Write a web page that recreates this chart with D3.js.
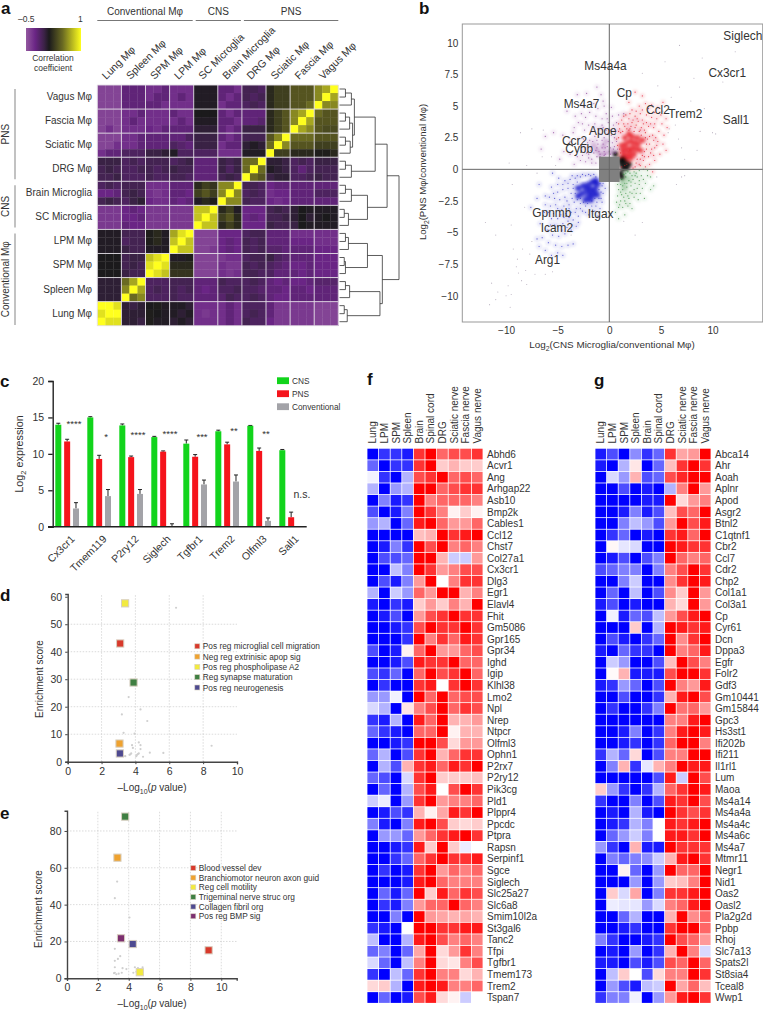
<!DOCTYPE html>
<html>
<head>
<meta charset="utf-8">
<script src="https://cdnjs.cloudflare.com/ajax/libs/d3/7.8.5/d3.min.js"></script>
<style>
  body { margin: 0; background: #fff; }
  text { font-family: "Liberation Sans", Arial, sans-serif; fill: #333; }
  .panel { font-size: 17px; font-weight: bold; fill: #111; }
</style>
</head>
<body>
<script>
// ---------- panel a ----------
const corrGroupsCol = ["Lung Mφ", "Spleen Mφ", "SPM Mφ", "LPM Mφ", "SC Microglia", "Brain Microglia", "DRG Mφ", "Sciatic Mφ", "Fascia Mφ", "Vagus Mφ"];
const corrGroupsRow = ["Vagus Mφ", "Fascia Mφ", "Sciatic Mφ", "DRG Mφ", "Brain Microglia", "SC Microglia", "LPM Mφ", "SPM Mφ", "Spleen Mφ", "Lung Mφ"];
// correlation x 10, 30 samples, rows top to bottom
const corrValues = [
  [-4,-4,-4,-2,-2,-2,-3,-3,-2,-3,-3,-3,1,1,1,-2,-2,-3,-.5,-.5,-1,2,3,3,4,4,4,6,7,10],
  [-4,-4,-4,-2,-2,-2,-3,-2,-2,-3,-2,-3,1,1,1,-2,-3,-2,-.5,-1,-.5,2,3,3,4,4,4,6,10,7],
  [-4,-4,-4,-2,-2,-2,-2,-2,-3,-3,-3,-3,1,1,1,-3,-2,-2,-1,-.5,-1,2,3,3,4,4,5,10,6,6],
  [-4,-4,-4,-3,-3,-2,-3,-3,-3,-2,-3,-3,1.3,1.3,1.3,-2,-3,-2,-2,-2,-2,2,3,4,6,7,10,5,4,4],
  [-4,-4,-4,-3,-2,-3,-3,-3,-3,-3,-2,-3,1,1,1,-2,-2,-3,-2,-2,-1.5,2,3,4,6,10,7,4,4,4],
  [-4,-3,-4,-3,-3,-3,-2.5,-3,-2,-2,-2,-2,.5,.5,.5,-2,-3,-2,0,0,0,2,3,4,10,7,6,4,3.5,3.5],
  [-4,-4,-4,-3,-3,-2,-2,-2,-2,-2,-2,-1,0,0,0,-2,-3,-2,-.5,-.5,-.5,4,6,10,5,5,5,4,4,4],
  [-4,-4,-3,-3,-3,-2,-2,-2,-2,-1,-1.5,-2,0,0,0,-3,-2,-2,.5,1,.5,5,10,6,4,4,4,3,3,3],
  [-3,-2,-2,-1,-1,-1,0,0,.5,1,-1,-1,-1,-1,-1,-3,-3,-3,1,1,1,10,3,3,2,2,2,1.5,1.5,2],
  [0,0,0,-1,-.5,-1,-.5,-.5,-.5,-1,-.5,0,-2,-2,-2,0,-.5,0,5,5,10,.5,.5,0,-1,-.5,-1,0,0,0],
  [-.5,0,-.5,-1,-1,-.5,-.5,-1,-.5,0,-.5,-.5,-2,-2,-2,0,-1,0,5,10,5,1,.5,0,-1,-2,-1,-.5,-.5,-.5],
  [-.5,-.5,0,-1,-1,-1,-.5,-1,-1,-.5,-.5,-1,-2,-2,-2,-.5,0,-.5,10,5,4,0,.5,.5,-1,-1,-.5,0,-.5,-.5],
  [-1,-.5,-1,-.5,-.5,-.5,-3,-3,-3,-2,-2,-2,2,3,2.5,6,6,10,-.5,-.5,-1,-2.5,-2,-2,-2,-2,-2,-2,-2,-2],
  [-2.5,-2.5,-2,-.5,0,-.5,-3,-3.5,-3,-2,-2,-2.5,3,4,3,6,10,6,-1,-.5,-1,-3,-2.5,-2.5,-2,-2,-2,-1,-1,-1],
  [-.5,0,-.5,-1,0,.5,-2.5,-3,-3,-2,-2.5,-2,1,2,1.5,10,6,6,-.5,-1,-1,-2.5,-3,-2.5,-2,-2,-2,-2,-2,-2],
  [-3.5,-3.5,-3.5,-2.5,-2,-2.5,-3.5,-3.5,-3.5,-3.5,-3.5,-3.5,8,8,10,2,3,1,-2.5,-2.5,-2.5,-.5,0,-.5,.5,1.3,1,1,1,1],
  [-3.5,-3.5,-3.5,-2.5,-2.5,-2,-3.5,-3.5,-3.5,-3.5,-3.5,-3.5,8,10,8,3,4,2,-2.5,-2,-2.5,-.5,-.5,0,.5,1.3,.5,1,1.3,1],
  [-3.5,-3.5,-3.5,-2,-2.5,-2.5,-3.5,-3.5,-3.5,-3.5,-3.5,-3.5,10,8,8,2,3,2,-2.5,-2.5,-2.5,0,-.5,-.5,0,1.3,1,1,1,1],
  [1,1,1,-.5,-.5,-.5,1.5,2,1,7,9,10,-4,-4,-4,-2.5,-2.5,-2.5,-1,-.5,-.5,-2,-2,-2,-3,-3,-3,-3,-3,-3],
  [1,1,1,-1,-.5,-.5,1.5,2,1,8,10,8,-4,-4,-4,-2.5,-2,-2.5,-.5,-1,-.5,-2,-2,-2,-2.5,-2.5,-2.5,-3,-3,-3],
  [1,1,1,0,-.5,-.5,1,1,1,10,8,8,-4,-4,-3.5,-2.5,-2,-2.5,-.5,-1,-.5,-1.5,-1.5,-2,-2,-2,-2,-2.5,-2.5,-2.5],
  [1.3,1.3,1.3,-.5,0,0,8,9,10,1,1,1.5,-4,-4,-4,-3.5,-3,-3,-1,-.5,-.5,0,-1,-1.5,-2,-2,-2,-2.5,-2.5,-2.5],
  [1.3,1.3,1.3,-.5,0,-.5,9,10,9,2,2,2,-4,-4,-4,-3,-3.5,-3.5,-.5,-1,-.5,-1,-1.5,-2,-2.5,-2.5,-2,-2.5,-2.5,-2.5],
  [1.3,1.3,1.3,0,-.5,-.5,10,9,8,2.5,2.5,2.5,-4,-4,-4,-3,-3.5,-3,-.5,-.5,-1,-1,-2,-2,-2,-2.5,-2,-2.5,-2.5,-2.5],
  [.5,.5,.5,5,7,10,-1,-1,-1,-.5,-.5,-.5,-2,-2,-2,-.5,-1,-1,-1,-.5,-1,-2,-2.5,-2,-2.5,-2.5,-2,-1.5,-1.5,-1.5],
  [.5,.5,.5,6,10,7,-1,-.5,-1,-.5,-1,-.5,-2,-2.5,-2,-1,-1,-.5,-1,-1,-1.5,-2,-2,-2.5,-2,-2,-2.5,-2,-2,-2],
  [.5,.5,.5,10,5,6,-1,-1,-1,-.5,-1,-1,-2,-2,-2,-1.5,-.5,-1,-1,-.5,-1,-2,-2.5,-2.5,-2,-2,-2,-2,-2,-2],
  [10,10,9,.5,0,.5,1.3,1.5,1,1,1,.5,-3,-3,-3,-3,-2,-3,-1,-1,-1,-2,-3.5,-3.5,-3.5,-3.5,-3.5,-4,-4,-4],
  [9,10,10,.5,.5,.5,1.5,1.3,1,1,.5,1,-3,-3.5,-3,-3,-2,-3,-1,-.5,-1,-2,-3.5,-3.5,-3.5,-3.5,-3.5,-4,-4,-4],
  [10,9,9,.5,.5,0,1.5,1,1,.5,1,.5,-3,-3,-3,-3,-2,-3,-.5,-1,-1,-2.5,-3.5,-3.5,-3.5,-3.5,-3.5,-4,-4,-4]
];
// merge tree over the 30 samples, h = 0..1 linkage height
const n3 = (a, b, c, h1, h2) => ({ h: h2, kids: [{ h: h1, kids: [a, b] }, c] });
const corrTree = { h: 1, kids: [
  { h: .8, kids: [
    { h: .6, kids: [
      { h: .25, kids: [n3(0, 1, 2, .1, .2), { h: .22, kids: [n3(3, 4, 5, .1, .17), n3(6, 7, 8, .1, .18)] }] },
      n3(9, 10, 11, .1, .2)
    ] },
    { h: .47, kids: [n3(12, 13, 14, .1, .2), n3(15, 16, 17, .08, .15)] }
  ] },
  { h: .72, kids: [
    { h: .47, kids: [n3(18, 19, 20, .1, .15), n3(21, 22, 23, .08, .1)] },
    { h: .68, kids: [n3(24, 25, 26, .1, .17), n3(27, 28, 29, .08, .13)] }
  ] }
] };

// ---------- panel b ----------
const geneLabels = ["Siglech", "Cx3cr1", "Ms4a4a", "Cp", "Ms4a7", "Ccl2", "Trem2", "Sall1", "Apoe", "Ccr2", "Cybb", "Gpnmb", "Itgax", "Icam2", "Arg1"];
const geneX = [11.05, 9.6, -2.42, .72, -4.42, 3.56, 5.72, 10.99, -1.97, -4.58, -4.26, -7.46, -2.09, -6.65, -7.2];
const geneY = [10.56, 7.64, 8.17, 6.08, 5.16, 4.69, 4.37, 3.92, 3.08, 2.29, 1.6, -3.43, -3.48, -4.62, -7.19];
const scatterGrey = [[6.8,9.8],[12.2,9.3],[5.4,8.5],[9,8.8],[8.2,7.2],[3.2,7.6],[4.7,6.6],[11,6.9],[6.8,6.5],[6,5.7],[7.9,5.4],[9.2,4.8],[7.5,4.2],[8.8,3],[10,2.9],[10.3,2.8],[8.5,1.5],[7,1.7],[6.7,2.4],[7.3,.8],[4.6,-.6],[6.5,-1.2],[7,-.6],[7.3,-.5],[5.8,3.2],[6.4,3.5],[5.2,4.6],[5.7,2.9],
  [-11.4,-9],[-11.6,-10.7],[-11,-10.3],[-10.8,-9.7],[-9.6,-10.9],[-10,-10],[-9.5,-9.9],[-9.8,-9.2],[-8.8,-8.2],[-9,-7.7],[-8.5,-8.8],[-8,-9.1],[-8.1,-8],[-7.2,-8.3],[-6.2,-8.3],[-5.5,-8.1],[-9.3,-6.3],[-12,-4.2],[-11,-5.2],[-9.5,-4.4],[-8.2,-3],[-9.4,-1.2],[-7,-.3],[-8,.3],[-9.7,.5],[-8.6,2.9],[-7.5,3.2],[-6.4,3.1],[-6.5,1],[-5.6,1],[-5.2,.3],[2.5,-5.2],[1.4,-4.1],[3.2,-4.2],[-7.5,-5.7],[-8.4,-6.3],[-8.9,-7.1],[-7.7,-6.7],[-6.9,-7.3],[-3.7,-5.2]];
const scatterPurple = [[-4.1,4.6],[-3.1,5.9],[-2.2,6],[-1.2,6.5],[-.8,5.9],[-.6,5.4],[-1.1,4.8],[-.3,4.4],[-2.3,4.1],[-3,3.7],[-2.4,3.1],[-3.5,2.9],[-1.4,3.6],[-.7,3.5],[-.1,3.7],[.4,3.5],[-1.9,2.3],[-1.4,2.6],[-.9,2.8],[-.5,2.5],[-.2,2.8],[.2,2.7],[.6,2.9],[-2.8,1.9],[-2.3,1.7],[-1.7,1.8],[-1.1,2],[-.6,2],[-.2,1.8],[.3,2.1],[.7,2.2],[-3.1,1],[-2.6,1.1],[-2,1.2],[-1.5,1.3],[-1,1.4],[-.5,1.4],[0,1.4],[.4,1.6],[.8,1.6],[-2.3,.6],[-1.7,.8],[-1.2,1],[-3.8,2.2],[-4.8,.8],[-4.4,1.4],[-.8,3.2],[-1.7,3],[.9,4.3],[.2,4.9],[1.4,4.4],[-.5,1.1],[.1,1.2],[.6,1.3],[-1.3,.5],[-3.4,.4],[-6.2,2.6],[-5.4,2.9],[-6.6,1.6],
  [-.4,1.2],[-.9,1.2],[-1.3,1.5],[-1.8,1.5],[-2.2,1.3],[-2.7,1.5],[-.7,1.7],[-1.2,1.7],[-.4,1.7],[.1,1.7],[.5,1.8],[-.1,2.2],[.5,2.5],[-.7,2.3],[-1.2,2.3],[-1.6,2.2],[-2.1,2.1],[-2.5,2.4],[-3,2.4],[-.3,3.1],[-.6,3.3],[-1.1,3.2],[-1.5,3.3],[-2,3.5],[-2.6,3.6],[.1,3.1],[.5,3.2],[.7,3.7],[-.2,4],[-.7,4],[-1.3,4.2],[-1.9,4.5],[-2.7,4.4],[-3.3,4.2],[.3,4.2],[-.5,5],[-1.5,5.2],[-2.5,5],[-3.4,3.3],[-4.5,2.7],[-.9,1],[-2,.9],[-2.8,.7],[-1.7,.5],[-3.8,1.2]];
const scatterGreen = [[1.2,-.8],[1.6,-.6],[2,-.3],[2.4,-.2],[2.9,-.1],[3.3,0],[3.7,-.1],[1.1,-1.2],[1.5,-1.1],[1.9,-.9],[2.3,-.8],[2.7,-.6],[3.1,-.5],[.9,-1.6],[1.3,-1.6],[1.7,-1.4],[2.1,-1.3],[2.5,-1.1],[2.9,-1.2],[.8,-2.1],[1.2,-2],[1.6,-1.9],[2,-1.8],[2.4,-1.6],[.7,-2.6],[1.1,-2.5],[1.5,-2.5],[1.9,-2.3],[2.4,-2.2],[3,-1.9],[.9,-3],[1.3,-3],[1.8,-2.9],[.6,-3.4],[2.2,-3.1],[3.5,-1.1],[4,-.6],[4.3,-1.3],[1.5,-3.6],[.9,-3.9],[1.6,-.3],[2.6,-1.9],[3.4,-2.3],
  [1.4,-.4],[1.8,-.2],[2.2,-.5],[2.6,-.3],[1.3,-1.3],[1.7,-1.1],[2.1,-1],[2.5,-.5],[2.9,-.9],[3.3,-.8],[1.1,-1.8],[1.4,-2.2],[1.8,-2.1],[2.2,-1.9],[2.7,-1.5],[3.2,-1.5],[1,-2.8],[1.6,-2.7],[2,-2.7],[2.8,-2.4],[3.7,-.5],[4,-1.6],[.8,-1.2]];
const scatterBlue = [[-.9,-1.1],[-1.3,-.6],[-1.8,-.5],[-2.3,-.5],[-2.8,-.6],[-3.3,-.7],[-3.8,-.8],[-4.3,-.9],[-3.5,-1.2],[-4,-1.5],[-4.5,-1.6],[-5,-1.8],[-3.7,-1.9],[-4.3,-2.2],[-4.8,-2.4],[-5.3,-2.3],[-5.7,-2.9],[-3.4,-2.6],[-3.9,-2.8],[-4.4,-2.9],[-5,-3.1],[-2.8,-2.7],[-3.2,-3.1],[-3.7,-3.4],[-4.2,-3.5],[-4.7,-3.6],[-2.3,-2.9],[-2.6,-3.3],[-3,-3.7],[-3.5,-4],[-4,-4.1],[-4.5,-4.3],[-5,-4.5],[-5.6,-3.9],[-6.3,-3.4],[-6.7,-4.3],[-6,-4.8],[-5.5,-5.2],[-4.9,-5.3],[-4.3,-5.1],[-3.7,-4.8],[-3.2,-4.5],[-6.5,-5.4],[-5.9,-5.8],[-5.2,-6],[-4.6,-6.1],[-4,-6],[-3.5,-5.9],[-7,-5.5],[-6.8,-6.1],[-6.2,-6.4],[-5.6,-6.8],[-5,-6.6],[-4.5,-6.8],[-1.7,-2.9],[-1.2,-2.6],[-.8,-2.3],[-.4,-1.5],[-.6,-1.9],[-1.4,-3.3],[-2,-3.6],[-.9,-3.1],[-7.6,-3],[-7,-2.3],[-6.2,-2.1],[-5.6,-1.4],[-6.8,-1.2],[-4.9,-.7],[-5.5,-.3],[-1.1,-3.7],
  [-.7,-1.3],[-1,-1.6],[-.8,-1.8],[-.6,-1.1],[-1.5,-.4],[-2,-.4],[-2.6,-.4],[-3.1,-.5],[-3.6,-.5],[-3.1,-1],[-3.5,-1.5],[-3.3,-1.9],[-3.6,-2.3],[-3.1,-2.4],[-2.8,-2.3],[-2.5,-2.6],[-2.1,-2.7],[-1.7,-2.5],[-1.4,-2.3],[-1,-2.3],[-.7,-2.6],[-1.3,-2.9],[-1.9,-3.2],[-2.3,-3.4],[-2.8,-3.1],[-3.3,-3.4],[-3,-4.2],[-3.6,-4.4],[-4.1,-4.6],[-4.6,-4.8],[-4,-1.1],[-4.5,-1.2],[-5,-1.2],[-5.4,-1.9],[-5.8,-2.2],[-6.2,-2.8],[-5.2,-2.8],[-4.6,-3.2],[-4.1,-2.5],[-3.9,-3.1],[-5.4,-3.5],[-5.9,-3.4],[-5,-3.9],[-4.4,-3.8],[-3.9,-3.8],[-5.3,-4.4],[-5.7,-4.4]];
const scatterRed = [[1.1,1.3],[2,3.2],[2.5,3.3],[3,3.1],[3.5,2.9],[3.9,2.6],[4.3,2.3],[4.6,1.9],[3.6,1.6],[4,1.3],[3.4,1],[3,.8],[2.6,.5],[2.2,3.7],[2.8,3.8],[3.3,3.6],[3.8,3.4],[4.3,3.3],[4.8,3],[1.5,3.4],[1.1,2.9],[.9,2.5],[1.9,4],[2.5,4.2],[3,4.4],[3.6,4.3],[4.1,4.1],[4.6,4],[5.1,3.6],[5.3,2.7],[5.2,2],[4.9,1.2],[1.4,4.2],[2.2,4.7],[2.9,5],[3.5,5.2],[4.1,5.1],[4.7,4.9],[5.2,5.3],[1.9,5.3],[3.2,5.8],[3.9,.4],[3.5,.2],[4.4,.7],[1.7,.4],[2.3,.1],[3,.3],[1.2,.2],[4.2,-.2],[2.5,6.1],
  [1.3,3],[1.7,3.2],[2.1,3.4],[2.6,3.5],[3.1,3.3],[3.4,3.1],[3.7,2.4],[3.9,2],[4.1,1.6],[3.8,1],[3.4,1.4],[3.3,.7],[2.9,.4],[2.5,.2],[3.6,2],[3.5,2.5],[4.2,2.7],[4.5,2.5],[4.7,2.2],[4.4,1.7],[4.3,1.1],[3.1,2.7],[2.9,3],[2.4,3],[1.9,3.1],[1.4,3.6],[1.8,3.6],[2.3,3.9],[2.7,4],[3.2,3.9],[3.6,3.7],[4,3.6],[4.4,3.6],[1,3.2],[.9,3.6],[1.2,3.9],[1.6,4.3],[2,4.4],[2.6,4.6],[3.2,4.7],[3.8,4.8],[4.4,4.5],[5,4.3],[5.5,4],[5.6,3.3],[5.5,1.5],[1,1.6],[.8,1.9],[.7,2.4],[.9,3],[1.5,.3],[2,.5],[2.7,.8],[3.2,1.1]];
const coreBlack = [[1.2,.4],[1.4,.1],[1.1,-.3],[1.5,.6],[1.9,.4],[1.3,.8],[1.1,.7],[1.7,.1],[1.2,-.6],[.6,1.2]];
const coreRed = [[1.2,.9],[1.4,1.2],[1.6,.8],[1.8,1.1],[2,1.4],[2.2,1.7],[1.7,1.6],[1.3,1.5],[2.4,1.2],[2.6,1.6],[2.1,.9],[2.8,2],[2.4,2.1],[2,2.2],[1.6,2],[1.2,1.9],[3,1.5],[2.7,2.5],[2.2,2.6],[3.2,2.3],[1.5,2.5],[1.9,2.8]];
const coreBlue = [[-1.2,-1.2],[-1.6,-1],[-2,-1.2],[-1.4,-1.6],[-1.8,-1.6],[-2.2,-1.6],[-1.2,-2],[-1.6,-2],[-2,-2],[-2.5,-1.3],[-2.6,-1.9],[-1.3,-.9],[-3,-1.5],[-2.3,-2.4],[-1.8,-2.4],[-3,-2.1]];
const coreGreen = [[1.3,-1],[1.8,-.7],[1.5,-1.5]];
const corePurple = [[-.8,1.2],[-.3,1.3],[.2,1.4],[-1.2,1.5],[-.6,1.8],[-1.5,1.9],[-.3,2.2]];

// ---------- panel c ----------
const barGenes = ["Cx3cr1", "Tmem119", "P2ry12", "Siglech", "Tgfbr1", "Trem2", "Olfml3", "Sall1"];
const barSeries = ["CNS", "PNS", "Conventional"];
const cnsValues = [14, 15, 13.9, 12.3, 11.4, 13.1, 13.85, 10.5];
const pnsValues = [11.7, 9.3, 9.55, 10.3, 9.6, 11.3, 10.4, 1.3];
const convValues = [2.5, 4.2, 4.5, .1, 5.8, 6.2, .8, 0];
const cnsTops = [14.2, 15.1, 14.1, 12.4, 11.9, 13.25, 13.9, 10.6];
const pnsTops = [12, 9.8, 9.7, 10.4, 9.9, 11.6, 10.8, 2];
const convTops = [3.3, 5.1, 5.1, .4, 6.4, 7.1, 1.2, 0];
const sigLabels = ["****", "*", "****", "****", "***", "**", "**", "n.s."];
const sigY = [14.2, 12.45, 12.7, 12.9, 12.45, 13.3, 12.9, 4.5];

// ---------- panel d ----------
const dTerms = ["Pos reg microglial cell migration", "Neg reg extrinisic apop sig", "Pos reg phospholipase A2", "Reg synapse maturation", "Pos reg neurogenesis"];
const dX = [3.1, 3.06, 3.39, 3.89, 3.08];
const dY = [43, 6.6, 57.6, 28.8, 3];
const dOther = [[6.4,56],[3.6,23.5],[4.3,19],[3.2,17.2],[4.7,14.8],[3.3,10.5],[3.95,10.2],[4.2,7],[3.8,6],[4.3,6],[3.85,5],[4.3,4.6],[4.85,3.3],[5.65,3.2],[8.5,5.8],[3.75,3],[3.65,2.5],[3.4,2],[3.3,2],[4.2,3],[4.1,2.5],[4.05,2],[4.45,1.8],[3.7,2.7],[4.15,2.8]];
const dColors = ["#d8392b", "#efa22f", "#f2ea3f", "#3f7f42", "#4e4a90"];

// ---------- panel e ----------
const eTerms = ["Blood vessel dev", "Branchiomotor neuron axon guid", "Reg cell motility", "Trigeminal nerve struc org", "Collagen fibril org", "Pos reg BMP sig"];
const eX = [9.18, 3.27, 4.72, 3.77, 4.26, 3.5];
const eY = [15.2, 65.5, 3.3, 87.8, 18.6, 21.7];
const eOther = [[3.25,52.5],[3.1,43.5],[4.05,33],[3.1,16],[3.45,12],[3.3,10.5],[3.1,9.5],[3.1,6],[3.6,5.5],[3.85,5],[4.4,6],[4.9,6],[3.1,3],[3.2,2.2],[3.35,2.5],[3.55,3],[4.3,3],[4.5,3.5],[4.6,5.5],[3.05,2.8]];
const eColors = ["#d8392b", "#efa22f", "#f2ea3f", "#3f7f42", "#4e4a90", "#7c2f6f"];

// ---------- panels f, g ----------
const fColumns = ["Lung", "LPM", "SPM", "Spleen", "Brain", "Spinal cord", "DRG", "Sciatic nerve", "Fascia nerve", "Vagus nerve"];
const fGenes = ["Abhd6","Acvr1","Ang","Arhgap22","Asb10","Bmp2k","Cables1","Ccl12","Chst7","Col27a1","Cx3cr1","Dlg3","Egr1","Elavl4","Fhit","Gm5086","Gpr165","Gpr34","Ighd","Igip","Klhl38","Lmo2","Npl","Nrep","Ntpcr","Olfml3","Ophn1","P2rx7","P2ry12","Pik3cg","Pld1","Plppr4","Ppcdc","Ptpra","Rapsn","Serpinf1","Sgce","Siglech","Slc25a27","Slc6a8","Smim10l2a","St3gal6","Tanc2","Tfpi","Tgfbr1","Tmem173","Trem2","Tspan7"];
const fValues = [
  [-10,-8,-8,-9,8,10,6,7,7,8],[-6,-10,-8,-8,8,10,2,3,2,2],[-.5,-8,-10,-3,7,8,10,6,7,6],[-3,-10,-4,-3,10,10,6,7,8,8],
  [-10,-5,-9,-8,10,5,6,6,6,5],[-7,-10,-9,-5,10,8,5,.5,2,.5],[-4,-3,-10,-6,9,10,6,4,4,6],[-10,-10,-10,-10,2.5,3,10,8,9,10],
  [-10,-9,-5,-8,10,7,10,5,6,5],[-10,-7,-7,-6,10,10,3,-2,-2,4],[-10,-10,-2.5,-5,10,8,4,5,7,7],[-10,-7,-9,-5,4,10,0,5,8,8],
  [-3,-10,-2,-4,6,4,10,10,3,5],[-9,-10,-8,-9,2,4,2,5,3,10],[-10,-9,-7,-10,4,7,8,10,8,8],[-10,-10,-9,-8,7,10,8,8,10,8],
  [-10,-10,-10,-8,10,5,8,6,9,8],[-7,-10,-9,.5,6,10,4,4,6,7],[-10,-10,-9,-7,9,8,8,10,6,6],[-7,-8,-6,-10,6,10,7,8,10,6],
  [-10,-8,-10,-10,8,9,0,8,10,8],[-4,-4,-.5,-10,10,6,10,6,7,7],[-1.5,-3,-10,1,5,7,10,6,8,7],[-8,-9,-3,-10,9,6,10,3,3,4],
  [-6,-8,-9,-10,6,6,10,.5,3,3],[-10,-10,-9,-8,10,10,7,1.5,4,4],[-6,-3,-10,-7,8,10,3,6,8,8],[-10,-3,-7,3,8,9,6,9,8,10],
  [-6,-7,-10,-1.5,8,10,2,2,2,2.5],[-10,-6,-10,-3,7,9,0,7,10,8],[-2,-.7,-10,-4,8,10,4,5,5,6],[-10,-9,-7,-8,3,.5,3.5,9,8,10],
  [-5,-9,-10,-5,9,10,7,2,1.5,2],[-10,-4,-4,-6,4,6,8,9,10,8],[-10,-10,-9,-8,9,2,10,2,-.7,0],[-10,-10,-8,-6,6,8,10,8,8,9],
  [-10,-8,-10,-9,8,10,4,6,5,6],[-10,-10,-10,-9,9,10,6,5,5,5],[-10,-6,-9,-6,10,2,9,6,8,7],[-10,-8,-9,-5,4,6,6,10,6,5],
  [-10,-10,-5,-10,10,4,3.5,3,3.5,3],[-8,-9,-10,0,10,10,8,8,9,9],[-2.5,-10,-10,-3,9,10,7,5,6,5],[-6,-5,-10,-6,3.5,10,1.5,4,8,5],
  [-1.5,-6,-10,-2.5,5,10,1.5,1,5,7],[-8,-10,-2.5,-6,8,10,5,5,1.5,3],[1.5,2,-3,-10,9,10,9,5,5,6],[-10,-6,-10,-9,7,9,1.5,.5,-2,0]
];
const gGenes = ["Abca14","Ahr","Aoah","Aplnr","Apod","Asgr2","Btnl2","C1qtnf1","Cbr2","Ccl7","Cdr2","Chp2","Col1a1","Col3a1","Cp","Cyr61","Dcn","Dppa3","Egfr","Folr2","Gdf3","Gm10441","Gm15844","Gpc3","Hs3st1","Ifi202b","Ifi211","Il1rl1","Lum","Maoa","Ms4a14","Ms4a4a","Ms4a4c","Ms4a6c","Ms4a7","Mtmr11","Negr1","Nid1","Oas2","Oasl2","Pla2g2d","Ppbp","Rhoj","Slc7a13","Spats2l","St8sia4","Tceal8","Wwp1"];
const gValues = [
  [-9,-7,-10,-4.5,-8,-6,8,3.5,4,10],[-9,-10,-3,1,-10,-6,2.5,8,10,8],[-10,-1.5,-4,3,-7,-6,7,8.5,10,10],[-10,-10,-7,-10,-9,-10,-3,5,10,4],
  [-10,-10,-10,-10,-9,-9,10,1.5,4,5],[-10,-10,-9,-5,-9,-7,2.5,7,6,10],[-10,-10,-5,-2.5,-4,-7,4,10,7,9],[-10,-8,-6,-10,-9,-10,8,9,6,10],
  [-10,.3,-1,-1.5,-10,-10,10,9,8,8],[-10,-9,-7,-10,-7,-5,10,6,5,6],[-7,-6,-5,-5,-10,-5,5,7,10,8],[-10,-10,-5,-2,-10,-10,4.5,8,10,9],
  [-10,-6,-10,-2.5,-10,-7,4.5,2,10,4],[-9,-7,-10,-9,-10,-10,3,1.5,10,4],[-10,-.5,-9,-6,-7,-2.5,4,7,9,10],[-10,-10,-10,2,-10,-3,10,9,8,9],
  [-10,-7,-9,-10,-8,-6,10,4.5,8,10],[-9,-10,-6,-8,-8,-10,10,5,6,9],[-10,-2,-4,-10,-10,-7,2.5,10,7,5],[-10,.2,3,-9,-9,-9,7,10,10,8],
  [-9,-8,-4,-6,-10,-7,10,5,4,9],[-10,-10,-7,-10,-10,-8,3,9,10,7],[-10,-8,-10,-10,-8,-5,10,5.5,6,4],[-10,-10,-10,-10,-10,-10,5,5,9,10],
  [-10,-10,-9,-5,-10,-8,5,9,10,9],[-10,-10,-9,-8,-10,-8,6,10,10,5],[-8,-3,-6,1.5,-10,-7,5,5,10,10],[-10,-5,3,-8,-1,3,5,10,9,9],
  [-10,-10,-10,-10,-10,-7,9,-2,10,7],[2,-4,-8,-10,-8,-3,6,8,10,9],[-8,-10,-10,-5,-10,-7,9,8,10,7],[-10,-9,-10,-3,-9,-10,10,8,7,8],
  [-10,-9,-8,-3,-5,0,9,8,9,10],[-10,-6,-4,-2,-5,0,9,9,8,10],[-4,-8,-10,3,-9,-9,10,8,8,8],[-10,-5,-6,-5,-4.5,-2,3,9,10,8],
  [-10,-10,.5,-6,-10,-4,10,6,6,10],[-10,-10,-10,-4,-10,-4,2,2.5,5,10],[-10,2,-1.5,3.5,-10,-5,8,8,9,10],[-10,-.7,-1,-1,-4,-1.5,5,6,9,10],
  [-10,-10,-6,-3,-10,-10,3,10,4.5,6],[-10,-10,-9,-8,-10,-10,8,10,10,6],[-5,-8,-10,-10,-9,-8,10,7,6,4],[-10,-9,-10,-4,-10,-8,3,10,5,-1.5],
  [-9,-9,-10,-7,-9,-7,7,6,10,6],[-10,-2.5,2,0,-7,1.5,5,5,10,8],[-10,-4,-7,-9,-2.5,-2,10,3.5,6,2.5],[-8,-5,-5,-.5,-10,-4,4,9,10,8]
];

const w = 763, h = 1012;
const svg = d3.select("body").append("svg").attr("width", w).attr("height", h);

function panelLetter(s, x, y) {
  svg.append("text").attr("class", "panel").attr("x", x).attr("y", y).text(s);
}
panelLetter("a", 1, 14);
panelLetter("b", 419, 14);
panelLetter("c", 0, 387);
panelLetter("d", 0, 601);
panelLetter("e", 0, 819);
panelLetter("f", 367, 385);
panelLetter("g", 594, 386);

// writes "Log<sub>2</sub>..." style labels
function subText(sel, a, sub, b) {
  sel.append("tspan").text(a);
  sel.append("tspan").attr("dy", 3).attr("font-size", "0.7em").text(sub);
  sel.append("tspan").attr("dy", -3).text(b);
}

// ---------- a: correlation heatmap ----------
const corrColor = d3.scaleLinear()
  .domain([-5, -2.5, 0, 1.3, 5, 10])
  .range(["#93589f", "#6a2585", "#3a2245", "#1b1a1c", "#6a6a22", "#ffff1e"]);
const rowBand = d3.scaleBand().domain(d3.range(30)).range([85, 325.7]);
const colBand = d3.scaleBand().domain(d3.range(30)).range([97.3, 338.3]);
const a = svg.append("g");
corrValues.forEach((row, i) => {
  a.selectAll(null).data(row).enter().append("rect")
    .attr("x", (d, j) => colBand(j))
    .attr("y", rowBand(i))
    .attr("width", colBand.bandwidth() + .3)
    .attr("height", rowBand.bandwidth() + .3)
    .attr("fill", d => corrColor(d));
});
d3.range(0, 31, 3).forEach(k => {
  const xp = k == 30 ? colBand.range()[1] : colBand(k);
  const yp = k == 30 ? rowBand.range()[1] : rowBand(k);
  a.append("line").attr("x1", xp).attr("x2", xp).attr("y1", 85).attr("y2", 325.7).attr("stroke", "#e4e0e6").attr("stroke-width", .9);
  a.append("line").attr("y1", yp).attr("y2", yp).attr("x1", 97.3).attr("x2", 338.3).attr("stroke", "#e4e0e6").attr("stroke-width", .9);
});
corrGroupsRow.forEach((s, i) => {
  a.append("text").attr("x", 92).attr("y", rowBand(i * 3) + 15).attr("text-anchor", "end").attr("font-size", 10).text(s);
});
corrGroupsCol.forEach((s, i) => {
  const cx = colBand(i * 3) + 9, cy = 80;
  a.append("text").attr("transform", `translate(${cx},${cy}) rotate(-45)`).attr("font-size", 10.5).text(s);
});

// group headers and side brackets
const headerNames = ["Conventional Mφ", "CNS", "PNS"];
const headerSpans = [[0, 4], [4, 6], [6, 10]];
headerNames.forEach((s, i) => {
  const x0 = colBand(headerSpans[i][0] * 3) + (i ? 2 : 0);
  const x1 = headerSpans[i][1] == 10 ? 338.3 : colBand(headerSpans[i][1] * 3) - 1;
  a.append("line").attr("x1", x0).attr("x2", x1).attr("y1", 20.5).attr("y2", 20.5).attr("stroke", "#777").attr("stroke-width", 1);
  a.append("text").attr("x", (x0 + x1) / 2).attr("y", 14.5).attr("text-anchor", "middle").attr("font-size", 10).text(s);
});
const sideNames = ["PNS", "CNS", "Conventional Mφ"];
const sideSpans = [[0, 4], [4, 6], [6, 10]];
sideNames.forEach((s, i) => {
  const y0 = rowBand(sideSpans[i][0] * 3) + 4;
  const y1 = sideSpans[i][1] == 10 ? 325 : rowBand(sideSpans[i][1] * 3) - 2;
  a.append("line").attr("x1", 15).attr("x2", 15).attr("y1", y0).attr("y2", y1).attr("stroke", "#999").attr("stroke-width", 1.2);
  a.append("text").attr("transform", `translate(8.5,${(y0 + y1) / 2}) rotate(-90)`).attr("text-anchor", "middle").attr("font-size", 10).text(s);
});

// colour bar
const barScale = d3.scaleLinear().domain([-5, 10]).range([26, 81]);
const defs = svg.append("defs");
const grad = defs.append("linearGradient").attr("id", "corrGrad");
corrColor.domain().forEach(v => {
  grad.append("stop").attr("offset", (v + 5) / 15).attr("stop-color", corrColor(v));
});
defs.append("filter").attr("id", "soft").attr("x", "-30%").attr("y", "-30%").attr("width", "160%").attr("height", "160%")
  .append("feGaussianBlur").attr("stdDeviation", 1.8);
a.append("rect").attr("x", barScale(-5)).attr("y", 28).attr("width", barScale(10) - barScale(-5)).attr("height", 23).attr("fill", "url(#corrGrad)");
a.append("text").attr("x", barScale(-5) - 8).attr("y", 22).attr("font-size", 8.5).attr("fill", "#555").text("–0.5");
a.append("text").attr("x", barScale(10) - 3).attr("y", 22).attr("font-size", 8.5).attr("fill", "#555").text("1");
a.append("text").attr("x", 53).attr("y", 60.5).attr("text-anchor", "middle").attr("font-size", 8.5).attr("fill", "#555").text("Correlation");
a.append("text").attr("x", 53).attr("y", 70.5).attr("text-anchor", "middle").attr("font-size", 8.5).attr("fill", "#555").text("coefficient");

// dendrogram from the merge tree
const dendroX = d3.scaleLinear().domain([0, 1]).range([339.5, 399]);
function drawTree(node) {
  if (typeof node == "number") return { y: rowBand(node) + rowBand.bandwidth() / 2, h: 0 };
  const parts = node.kids.map(drawTree);
  const x = dendroX(node.h);
  parts.forEach(p => {
    a.append("line").attr("x1", dendroX(p.h)).attr("x2", x).attr("y1", p.y).attr("y2", p.y).attr("stroke", "#333").attr("stroke-width", .8);
  });
  a.append("line").attr("x1", x).attr("x2", x).attr("y1", parts[0].y).attr("y2", parts[1].y).attr("stroke", "#333").attr("stroke-width", .8);
  return { y: d3.mean(parts, p => p.y), h: node.h };
}
drawTree(corrTree);

// ---------- b: scatter ----------
const bx = d3.scaleLinear().domain([-14.24, 14.86]).range([462.3, 762.7]);
const by = d3.scaleLinear().domain([-12.07, 11.49]).range([322, 24]);
const b = svg.append("g");
b.append("rect").attr("x", bx(-14.24)).attr("y", by(11.49)).attr("width", bx(14.86) - bx(-14.24)).attr("height", by(-12.07) - by(11.49)).attr("fill", "none").attr("stroke", "#999").attr("stroke-width", 1);

function dots(parent, data, color, r, op) {
  parent.selectAll(null).data(data).enter().append("circle")
    .attr("cx", d => bx(d[0])).attr("cy", d => by(d[1]))
    .attr("r", r).attr("fill", color).attr("opacity", op);
}
const bSoft = b.append("g").attr("filter", "url(#soft)");
// same points, blurred wide and faint, for the haze where they are dense
dots(bSoft, scatterPurple, "#8a3a98", 2.4, .14);
dots(bSoft, scatterGreen, "#2e8b35", 2.4, .13);
dots(bSoft, scatterBlue, "#2a2ac8", 2.4, .16);
dots(bSoft, scatterRed, "#e0141c", 2.4, .16);
dots(bSoft, corePurple, "#8a3a98", 3, .3);
dots(bSoft, coreGreen, "#2e8b35", 3, .3);
dots(bSoft, coreBlue, "#1010c8", 3.2, .8);
dots(bSoft, coreRed, "#e5141c", 3, .75);
dots(bSoft, coreBlack, "#0c0c0c", 3, .9);
dots(b, scatterGrey, "#8d7f98", .55, .6);
dots(b, scatterPurple, "#8a3a98", .6, .7);
dots(b, scatterGreen, "#2e8b35", .6, .75);
dots(b, scatterBlue, "#2a2ac8", .6, .7);
dots(b, scatterRed, "#e0141c", .6, .75);

b.append("rect").attr("x", bx(-1)).attr("y", by(1)).attr("width", bx(1) - bx(-1)).attr("height", by(-1) - by(1)).attr("fill", "#808080");
b.append("line").attr("x1", bx(0)).attr("x2", bx(0)).attr("y1", by(11.49)).attr("y2", by(-12.07)).attr("stroke", "#666");
b.append("line").attr("x1", bx(-14.24)).attr("x2", bx(14.86)).attr("y1", by(0)).attr("y2", by(0)).attr("stroke", "#666");

const bAxisX = b.append("g").attr("transform", `translate(0,${by(-12.07)})`)
  .call(d3.axisBottom(bx).tickValues([-10, -5, 0, 5, 10]).tickSize(0).tickPadding(5).tickFormat(d => d < 0 ? "−" + (-d) : d));
const bAxisY = b.append("g").attr("transform", `translate(${bx(-14.24)},0)`)
  .call(d3.axisLeft(by).tickValues([-10, -7.5, -5, -2.5, 0, 2.5, 5, 7.5, 10]).tickSize(0).tickPadding(4).tickFormat(d => d < 0 ? "−" + (-d) : d));
[bAxisX, bAxisY].forEach(g => {
  g.select(".domain").remove();
  g.selectAll("text").attr("font-size", 10).attr("font-family", "Liberation Sans").attr("fill", "#333");
});
geneLabels.forEach((s, i) => {
  b.append("text").attr("x", bx(geneX[i])).attr("y", by(geneY[i]) + 4.2).attr("font-size", 11.9).attr("fill", "#2c2c2c").text(s);
});
subText(b.append("text").attr("text-anchor", "middle").attr("x", 612).attr("y", 348).attr("font-size", 9.9), "Log", "2", "(CNS Microglia/conventional Mφ)");
subText(b.append("text").attr("text-anchor", "middle").attr("transform", "translate(426,172) rotate(-90)").attr("font-size", 9.6), "Log", "2", "(PNS Mφ/conventional Mφ)");

// ---------- c: bars ----------
const c = svg.append("g");
const cx0 = d3.scaleBand().domain(barGenes).range([51.3, 307.3]);
const cx1 = d3.scaleBand().domain(barSeries).range([4, 27.7]).paddingInner(.32);
const cy = d3.scaleLinear().domain([0, 20]).range([526.7, 381]);
const barColors = { CNS: "#12d41c", PNS: "#f5141c", Conventional: "#a3a3a8" };
const barRows = [
  { name: "CNS", values: cnsValues, tops: cnsTops },
  { name: "PNS", values: pnsValues, tops: pnsTops },
  { name: "Conventional", values: convValues, tops: convTops }
];
barRows.forEach(s => {
  barGenes.forEach((g, i) => {
    const x = cx0(g) + cx1(s.name);
    const mid = x + cx1.bandwidth() / 2;
    if (s.tops[i] > s.values[i]) {
      c.append("line").attr("x1", mid).attr("x2", mid).attr("y1", cy(s.values[i])).attr("y2", cy(s.tops[i])).attr("stroke", "#222").attr("stroke-width", 1);
      c.append("line").attr("x1", mid - 2).attr("x2", mid + 2).attr("y1", cy(s.tops[i])).attr("y2", cy(s.tops[i])).attr("stroke", "#222").attr("stroke-width", 1);
    }
    c.append("rect").attr("x", x).attr("y", cy(s.values[i])).attr("width", cx1.bandwidth()).attr("height", cy(0) - cy(s.values[i])).attr("fill", barColors[s.name]);
  });
});
const cAxisX = c.append("g").attr("transform", `translate(0,${cy(0)})`)
  .call(d3.axisBottom(cx0).tickSize(0).tickPadding(0));
cAxisX.select(".domain").attr("d", "M48,0H306.7").attr("stroke", "#222").attr("stroke-width", 1.4);
cAxisX.selectAll("text").remove();
barGenes.forEach(g => {
  c.append("text").attr("transform", `translate(${cx0(g) + 24},${cy(0) + 13}) rotate(-45)`).attr("text-anchor", "end").attr("font-size", 10.5).text(g);
});
const cAxisY = c.append("g").attr("transform", "translate(52.7,0)")
  .call(d3.axisLeft(cy).tickValues([0, 5, 10, 15, 20]).tickSize(4.5).tickPadding(4));
cAxisY.selectAll("text").attr("font-size", 10.5).attr("font-family", "Liberation Sans").attr("fill", "#333");
cAxisY.selectAll("line").attr("stroke", "#222").attr("stroke-width", 1.3);
cAxisY.select(".domain").attr("stroke", "#222").attr("stroke-width", 1.4);
sigLabels.forEach((s, i) => {
  const isStar = s != "n.s.";
  c.append("text").attr("x", cx0(barGenes[i]) + cx1("Conventional") + (isStar ? 1 : 5)).attr("y", cy(sigY[i]) + 4)
    .attr("text-anchor", "middle").attr("font-size", isStar ? 9.5 : 10.5).text(s);
});
subText(c.append("text").attr("text-anchor", "middle").attr("transform", "translate(23,454) rotate(-90)").attr("font-size", 10.8), "Log", "2", " expression");
barSeries.forEach((s, i) => {
  c.append("rect").attr("x", 277).attr("y", 377.3 + i * 13).attr("width", 12).attr("height", 6.8).attr("fill", barColors[s]);
  c.append("text").attr("x", 292).attr("y", 383.7 + i * 13).attr("font-size", 8.3).attr("fill", "#444").text(s);
});

// ---------- d, e: enrichment plots ----------
function enrichment(opt) {
  const g = svg.append("g");
  const x = d3.scaleLinear().domain(opt.xDomain).range(opt.xRange);
  const y = d3.scaleLinear().domain(opt.yDomain).range(opt.yRange);
  opt.xGrid.forEach(v => {
    g.append("line").attr("x1", x(v)).attr("x2", x(v)).attr("y1", opt.yRange[0]).attr("y2", opt.yRange[1]).attr("stroke", "#ccc").attr("stroke-width", .7).attr("stroke-dasharray", "1.5,1.5");
  });
  opt.yGrid.forEach(v => {
    g.append("line").attr("x1", opt.xRange[0]).attr("x2", opt.xRange[1]).attr("y1", y(v)).attr("y2", y(v)).attr("stroke", "#ccc").attr("stroke-width", .7).attr("stroke-dasharray", "1.5,1.5");
  });
  const ax = g.append("g").attr("transform", `translate(0,${opt.yRange[0]})`)
    .call(d3.axisBottom(x).tickValues(opt.xTicks).tickSize(2.5).tickPadding(3));
  const ay = g.append("g").attr("transform", `translate(${opt.xRange[0]},0)`)
    .call(d3.axisLeft(y).tickValues(opt.yTicks).tickSize(2.5).tickPadding(3));
  [ax, ay].forEach(s => {
    s.selectAll("text").attr("font-size", 10.5).attr("font-family", "Liberation Sans").attr("fill", "#333");
    s.select(".domain").attr("stroke", "#444").attr("stroke-width", 1.4);
    s.selectAll("line").attr("stroke", "#444");
  });
  g.selectAll(null).data(opt.others).enter().append("circle")
    .attr("cx", d => x(d[0])).attr("cy", d => y(d[1])).attr("r", 1.1).attr("fill", "#cfcfcf");
  opt.terms.forEach((t, i) => {
    g.append("rect").attr("x", x(opt.xs[i]) - 3.6).attr("y", y(opt.ys[i]) - 3.6).attr("width", 7.2).attr("height", 7.2)
      .attr("fill", opt.colors[i]).attr("stroke", "#d8cfc0").attr("stroke-width", 1);
    const ly = opt.legendY + i * opt.legendStep;
    g.append("rect").attr("x", opt.legendX - 2.5).attr("y", ly - 2.5).attr("width", 5).attr("height", 5)
      .attr("fill", opt.colors[i]).attr("stroke", "#d8cfc0").attr("stroke-width", .6);
    g.append("text").attr("x", opt.legendX + 5.5).attr("y", ly + 3).attr("font-size", 8.3).attr("fill", "#444").text(t);
  });
  g.append("text").attr("transform", `translate(${opt.yTitleX},${opt.yTitleY}) rotate(-90)`).attr("text-anchor", "middle").attr("font-size", 10).text("Enrichment score");
  const xt = g.append("text").attr("x", opt.xTitleX).attr("y", opt.xTitleY).attr("text-anchor", "middle").attr("font-size", 10);
  xt.append("tspan").text("–Log");
  xt.append("tspan").attr("dy", 2.5).attr("font-size", "0.7em").text("10");
  xt.append("tspan").attr("dy", -2.5).text("(");
  xt.append("tspan").attr("font-style", "italic").text("p");
  xt.append("tspan").text(" value)");
}
enrichment({
  xDomain: [0, 10], xRange: [67.7, 237], yDomain: [0, 61], yRange: [761.7, 594],
  xGrid: [2, 4, 6, 8], yGrid: [10, 20, 30, 40, 50], xTicks: [0, 2, 4, 6, 8, 10], yTicks: [0, 10, 20, 30, 40, 50, 60],
  others: dOther, terms: dTerms, xs: dX, ys: dY, colors: dColors,
  legendX: 197.3, legendY: 646.3, legendStep: 10.3,
  yTitleX: 43, yTitleY: 679, xTitleX: 152, xTitleY: 791
});
enrichment({
  xDomain: [0, 11], xRange: [67, 236.7], yDomain: [0, 91], yRange: [978.3, 810.7],
  xGrid: [2, 4, 6, 8, 10], yGrid: [20, 40, 60, 80], xTicks: [0, 2, 4, 6, 8, 10], yTicks: [0, 20, 40, 60, 80],
  others: eOther, terms: eTerms, xs: eX, ys: eY, colors: eColors,
  legendX: 193.3, legendY: 868, legendStep: 9.65,
  yTitleX: 42, yTitleY: 909, xTitleX: 152, xTitleY: 1007
});

// ---------- f, g: expression heatmaps ----------
const heatColor = d3.scaleLinear().domain([-10, 0, 10]).range(["#0000ff", "#ffffff", "#ff0000"]);
function heatmap(genes, values, x0, x1) {
  const g = svg.append("g");
  const x = d3.scaleBand().domain(fColumns).range([x0, x1]);
  const y = d3.scaleBand().domain(genes).range([448.3, 1003.3]);
  values.forEach((row, i) => {
    g.selectAll(null).data(row).enter().append("rect")
      .attr("x", (d, j) => x(fColumns[j]) + .4)
      .attr("y", y(genes[i]) + .4)
      .attr("width", x.bandwidth() - .8)
      .attr("height", y.bandwidth() - .8)
      .attr("fill", d => heatColor(d));
    g.append("text").attr("x", x1 + 4).attr("y", y(genes[i]) + 9.4).attr("font-size", 10).attr("fill", "#222").text(genes[i]);
  });
  fColumns.forEach(s => {
    g.append("text").attr("transform", `translate(${x(s) + x.bandwidth() / 2 + 3.5},443.5) rotate(-90)`).attr("font-size", 10).attr("fill", "#222").text(s);
  });
}
heatmap(fGenes, fValues, 367, 483);
heatmap(gGenes, gValues, 595, 711);
</script>
</body>
</html>
